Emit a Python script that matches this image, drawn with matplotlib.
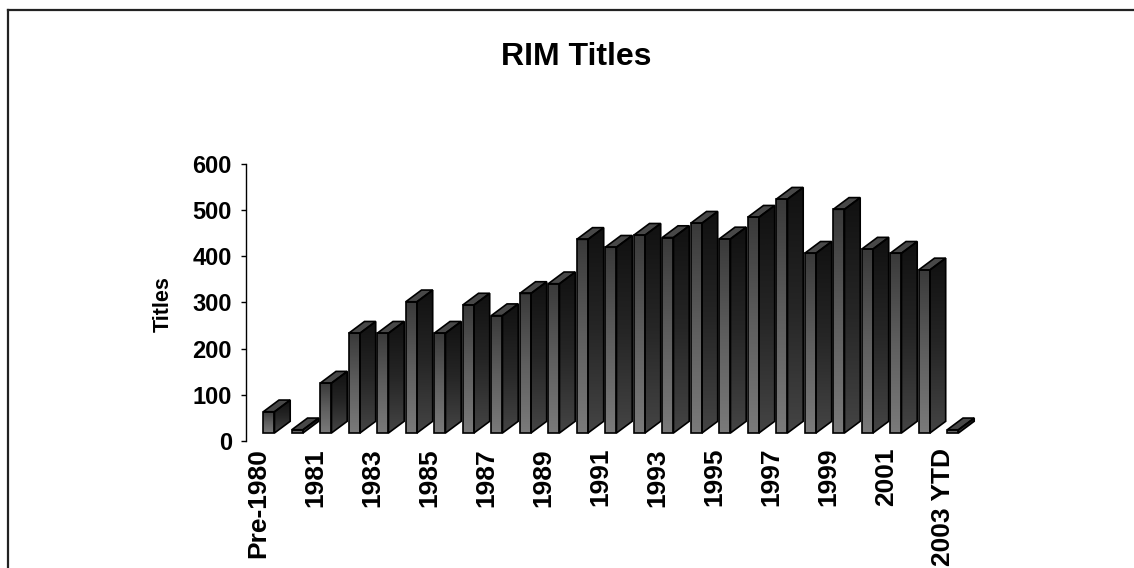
import numpy as np
import matplotlib
matplotlib.use('Agg')
import matplotlib.pyplot as plt
from matplotlib.patches import Polygon
from matplotlib.colors import LinearSegmentedColormap
from matplotlib.lines import Line2D

plt.rcParams['font.family'] = ['Liberation Sans', 'DejaVu Sans']

# data
categories = ['Pre-1980'] + [str(y) for y in range(1980, 2003)] + ['2003 YTD']
titles = [46, 7, 108, 216, 216, 284, 216, 277, 254, 302, 323, 419, 402,
          428, 423, 454, 420, 467, 506, 389, 484, 398, 389, 353, 7]
yticks = [0, 100, 200, 300, 400, 500, 600]

W, H = 1134, 568
fig = plt.figure(figsize=(W / 100, H / 100), dpi=100)

# axes placed in pixels: y axis at x=245.7, value 0 at y=441, 600 at y=163.7
step = 28.5                    # px per category
x0 = -0.456
x1 = 25.5
ax_w = step * (x1 - x0)
ax_h = 441 - 163.7
ax = fig.add_axes([245.7 / W, (H - 441) / H, ax_w / W, ax_h / H])
ax.set_xlim(x0, x1)
ax.set_ylim(0, 600)
ypx = ax_h / 600.0             # px per value unit

# oblique 3D projection (in px), converted to data units
lift = 8.0 / ypx               # bars sit back in depth -> front face raised
fl, fr = 4.6 / step, 15.8 / step   # front face left/right relative to category
ddx, ddy = 15.7 / step, 11.7 / ypx # bar depth direction

front_cm = LinearSegmentedColormap.from_list('f', ['#7a7a7a', '#5e5e5e', '#3a3a3a'])
side_cm = LinearSegmentedColormap.from_list('s', ['#444444', '#262626', '#111111'])
grad = np.linspace(0, 1, 64).reshape(-1, 1)

for i, v in enumerate(titles):
    xl, xr = i + fl, i + fr
    yb, yt = lift, lift + v
    front = [(xl, yb), (xr, yb), (xr, yt), (xl, yt)]
    side = [(xr, yb), (xr + ddx, yb + ddy), (xr + ddx, yt + ddy), (xr, yt)]
    top = [(xl, yt), (xr, yt), (xr + ddx, yt + ddy), (xl + ddx, yt + ddy)]

    pf = Polygon(front, closed=True, facecolor='none', edgecolor='none')
    ax.add_patch(pf)
    im = ax.imshow(grad, cmap=front_cm, origin='lower', aspect='auto',
                   extent=[xl, xr, yb, yt], interpolation='bilinear')
    im.set_clip_path(pf)

    ps = Polygon(side, closed=True, facecolor='none', edgecolor='none')
    ax.add_patch(ps)
    im = ax.imshow(grad, cmap=side_cm, origin='lower', aspect='auto',
                   extent=[xr, xr + ddx, yb, yt + ddy], interpolation='bilinear')
    im.set_clip_path(ps)

    ax.add_patch(Polygon(top, closed=True, facecolor='#484848', edgecolor='none'))
    for poly in (front, side, top):
        ax.add_patch(Polygon(poly, closed=True, facecolor='none',
                             edgecolor='black', lw=1.2, joinstyle='miter'))

ax.set_xlim(x0, x1)
ax.set_ylim(0, 600)
ax.set_aspect('auto')

for s in ['top', 'right', 'bottom']:
    ax.spines[s].set_visible(False)
ax.spines['left'].set_linewidth(1.0)
ax.spines['left'].set_color('black')

ax.set_yticks(yticks)
ax.set_yticklabels([str(t) for t in yticks], fontsize=17, fontweight='bold')
ax.tick_params(axis='y', direction='out', length=3.5, width=1, pad=6.5)

ax.set_xticks(range(0, len(categories), 2))
ax.set_xticklabels(categories[::2], rotation=90, fontsize=19, fontweight='bold',
                   va='top', ha='center')
ax.tick_params(axis='x', length=0, pad=5)

fig.text(163 / W, 1 - 304 / H, 'Titles', rotation=90, ha='center', va='center',
         fontsize=15.5, fontweight='bold')
fig.text(576 / W, 1 - 65 / H, 'RIM Titles', ha='center', va='baseline',
         fontsize=23, fontweight='bold')

# chart frame (top and left edges visible)
fig.add_artist(Line2D([8 / W, 1], [1 - 10 / H, 1 - 10 / H], color='#222222', lw=1.6))
fig.add_artist(Line2D([8 / W, 8 / W], [0, 1 - 10 / H], color='#222222', lw=1.6))

fig.savefig('out.png', dpi=100)
